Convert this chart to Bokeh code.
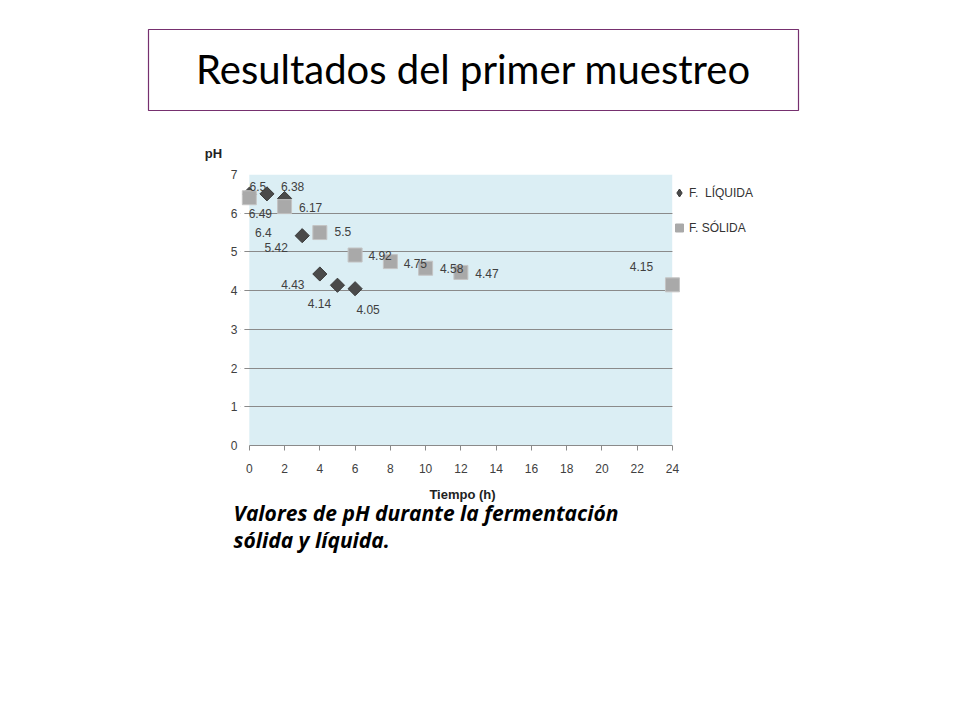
from bokeh.plotting import figure
from bokeh.layouts import column
from bokeh.models import (Range1d, FixedTicker, BoxAnnotation, Legend,
                          LegendItem, ColumnDataSource)
from bokeh.core.properties import value
from bokeh.embed import file_html
from bokeh.resources import INLINE

# ---- data ----
t_liquida = [0, 1, 2, 3, 4, 5, 6]
ph_liquida = [6.49, 6.5, 6.38, 5.42, 4.43, 4.14, 4.05]
t_solida = [0, 2, 4, 6, 8, 10, 12, 24]
ph_solida = [6.4, 6.17, 5.5, 4.92, 4.75, 4.58, 4.47, 4.15]
x_ticks = [0, 2, 4, 6, 8, 10, 12, 14, 16, 18, 20, 22, 24]
y_ticks = [0, 1, 2, 3, 4, 5, 6, 7]
series_names = ["F.  LÍQUIDA", "F. SÓLIDA"]
title_text = "Resultados del primer muestreo"
y_title = "pH"
x_title = "Tiempo (h)"
caption_lines = ["Valores de pH durante la fermentación", "sólida y líquida."]

# label placement (screen pixel offsets, y down)
liq_dx = [11, -9, 8, -26, -27, -18, 13]
liq_dy = [19, -7, -12, 12, 11, 18, 21]
sol_dx = [14, 26, 23, 25, 25, 26, 26, -31]
sol_dy = [35, 1, -1, 0, 2, 0, 1, -18]

FONT = "Liberation Sans"
W = 944
X_MIN, X_MAX = 0, 24


def blank(h):
    f = figure(width=W, height=h, output_backend="svg", toolbar_location=None,
               x_range=Range1d(0, W), y_range=Range1d(h, 0), min_border=0,
               x_axis_location=None, y_axis_location=None, frame_align=False)
    f.grid.visible = False
    f.outline_line_color = None
    f.background_fill_color = "white"
    f.border_fill_color = "white"
    return f


# ---- top strip: title box and y title ----
top = blank(165)
top.quad(left=[148], right=[798], top=[29], bottom=[110], fill_alpha=0,
         line_color="#76306F", line_width=1.2)
top.text(x=[473], y=[68], text=[title_text], text_font=value("Lato"),
         text_font_size="40px", text_align="center",
         text_baseline="middle", text_color="black")
top.text(x=[213], y=[153], text=[y_title], text_font=value(FONT),
         text_font_style="bold", text_font_size="13px", text_align="center",
         text_baseline="middle", text_color="#222222")

# ---- chart ----
# frame extends to the right (white) so the legend can sit inside it
p = figure(width=W, height=315, output_backend="svg", toolbar_location=None,
           x_range=Range1d(-0.5, 39.43), y_range=Range1d(0, 7),
           min_border_left=240, min_border_right=0,
           min_border_top=9, min_border_bottom=35, frame_align=False)
p.outline_line_color = None
p.background_fill_color = "white"
p.border_fill_color = "white"
p.add_layout(BoxAnnotation(left=X_MIN, right=X_MAX, bottom=0, top=7,
                           fill_color="#DBEEF4", fill_alpha=1,
                           line_color=None, level="image"))
p.xgrid.visible = False
p.ygrid.ticker = FixedTicker(ticks=y_ticks)
p.ygrid.grid_line_color = "#8A8A8A"
# white masks: keep the grid lines to the plot area plus short left stubs
p.add_layout(BoxAnnotation(left=X_MAX, fill_color="white", fill_alpha=1,
                           line_color=None, level="underlay"))
p.add_layout(BoxAnnotation(right=-0.28, fill_color="white", fill_alpha=1,
                           line_color=None, level="underlay"))

p.xaxis.ticker = FixedTicker(ticks=x_ticks)
p.xaxis.bounds = (X_MIN, X_MAX)
p.xaxis.axis_line_color = "#8A8A8A"
p.xaxis.major_tick_line_color = "#8A8A8A"
p.xaxis.major_tick_out = 5
p.xaxis.major_tick_in = 0
p.xaxis.major_label_standoff = 13

p.yaxis.ticker = FixedTicker(ticks=y_ticks)
p.yaxis.axis_line_color = None
p.yaxis.major_tick_line_color = None
p.yaxis.major_tick_out = 0
p.yaxis.major_tick_in = 0
p.yaxis.major_label_standoff = 3

for ax in (p.xaxis, p.yaxis):
    ax.minor_tick_line_color = None
    ax.major_label_text_font = FONT
    ax.major_label_text_font_size = "12px"
    ax.major_label_text_color = "#404040"

src_l = ColumnDataSource(dict(x=t_liquida, y=ph_liquida,
                              lab=[str(v) for v in ph_liquida],
                              dx=liq_dx, dy=liq_dy))
src_s = ColumnDataSource(dict(x=t_solida, y=ph_solida,
                              lab=[str(v) for v in ph_solida],
                              dx=sol_dx, dy=sol_dy))

r_l = p.scatter("x", "y", source=src_l, marker="square", angle=0.785398,
                size=10, fill_color="#4A4A4A", line_color="#3A3A3A")
r_s = p.scatter("x", "y", source=src_s, marker="square", size=14,
                fill_color="#A9A9A9", line_color="#C4C4C4", line_width=1)

# legend-key renderers (no visible data) so the legend shows a diamond key
empty = ColumnDataSource(dict(x=[float("nan")], y=[float("nan")]))
k_l = p.scatter("x", "y", source=empty, marker="diamond",
                fill_color="#4A4A4A", line_color="#3A3A3A")
k_s = p.scatter("x", "y", source=empty, marker="square",
                fill_color="#A9A9A9", line_color="#A9A9A9")

for src in (src_l, src_s):
    p.text("x", "y", text="lab", source=src, x_offset="dx", y_offset="dy",
           text_font=value(FONT), text_font_size="12px", text_color="#404040",
           text_align="center", text_baseline="middle")

legend = Legend(items=[LegendItem(label=series_names[0], renderers=[k_l]),
                       LegendItem(label=series_names[1], renderers=[k_s])],
                location=(429, 200), padding=0, margin=0,
                glyph_width=20, glyph_height=35, label_height=35,
                label_standoff=0, spacing=0,
                border_line_color=None, background_fill_alpha=0,
                label_text_font=FONT, label_text_font_size="12px",
                label_text_color="#333333", label_text_baseline="middle")
p.add_layout(legend)

# ---- bottom strip: x title and caption ----
bot = blank(224)
bot.text(x=[462], y=[14], text=[x_title], text_font=value(FONT),
         text_font_style="bold", text_font_size="13px", text_align="center",
         text_baseline="middle", text_color="#222222")
bot.text(x=[233, 233], y=[32, 59], text=caption_lines,
         text_font=value("Open Sans"), text_font_style="bold italic",
         text_font_size="21px", text_align="left",
         text_baseline="middle", text_color="black")

layout = column(top, p, bot, spacing=0)
open("out.html", "w").write(file_html(layout, INLINE))
